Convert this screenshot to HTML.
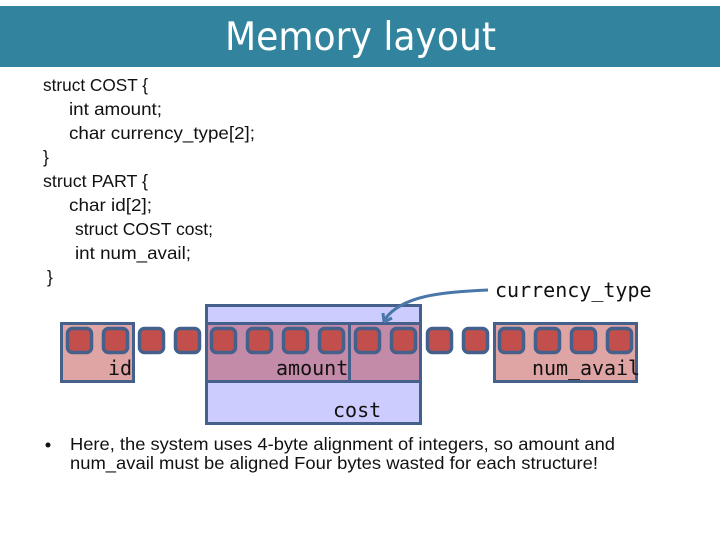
<!DOCTYPE html>
<html><head><meta charset="utf-8"><style>
html,body{margin:0;padding:0;background:#fff;width:720px;height:540px;overflow:hidden}
svg{display:block}
.b{font-family:"Liberation Sans",sans-serif;font-size:17.5px;fill:#111}
.m{font-family:"DejaVu Sans Mono",monospace;font-size:20px;fill:#111}
</style></head><body>
<svg width="720" height="540" viewBox="0 0 720 540" xmlns="http://www.w3.org/2000/svg">
<rect x="0" y="6" width="720" height="61" fill="#32849e"/>
<text x="225" y="50" font-family="'DejaVu Sans',sans-serif" font-size="39" fill="#fff" textLength="271" lengthAdjust="spacingAndGlyphs">Memory layout</text>

<text class="b" x="43" y="91" textLength="105" lengthAdjust="spacingAndGlyphs">struct COST {</text>
<text class="b" x="69" y="115" textLength="93" lengthAdjust="spacingAndGlyphs">int amount;</text>
<text class="b" x="69" y="139" textLength="186" lengthAdjust="spacingAndGlyphs">char currency_type[2];</text>
<text class="b" x="43" y="163">}</text>
<text class="b" x="43" y="187" textLength="105" lengthAdjust="spacingAndGlyphs">struct PART {</text>
<text class="b" x="69" y="211" textLength="83" lengthAdjust="spacingAndGlyphs">char id[2];</text>
<text class="b" x="75" y="235" textLength="138" lengthAdjust="spacingAndGlyphs">struct COST cost;</text>
<text class="b" x="75" y="259" textLength="116" lengthAdjust="spacingAndGlyphs">int num_avail;</text>
<text class="b" x="47" y="283">}</text>

<rect x="206.500" y="305.500" width="214" height="118" fill="#ccccff" stroke="#46608c" stroke-width="3"/>
<rect x="206.500" y="323.500" width="214" height="58" fill="#c48ba8" stroke="#46608c" stroke-width="3"/>
<line x1="349.500" y1="323" x2="349.500" y2="382" stroke="#46608c" stroke-width="3"/>
<rect x="61.500" y="323.500" width="72" height="58" fill="#dfa4a4" stroke="#46608c" stroke-width="3"/>
<rect x="494.500" y="323.500" width="142" height="58" fill="#dfa4a4" stroke="#46608c" stroke-width="3"/>

<g fill="#c24f4b" stroke="#46608c" stroke-width="3.500">
<rect x="67.500" y="328.500" width="24" height="24" rx="5"/>
<rect x="103.500" y="328.500" width="24" height="24" rx="5"/>
<rect x="139.500" y="328.500" width="24" height="24" rx="5"/>
<rect x="175.500" y="328.500" width="24" height="24" rx="5"/>
<rect x="211.500" y="328.500" width="24" height="24" rx="5"/>
<rect x="247.500" y="328.500" width="24" height="24" rx="5"/>
<rect x="283.500" y="328.500" width="24" height="24" rx="5"/>
<rect x="319.500" y="328.500" width="24" height="24" rx="5"/>
<rect x="355.500" y="328.500" width="24" height="24" rx="5"/>
<rect x="391.500" y="328.500" width="24" height="24" rx="5"/>
<rect x="427.500" y="328.500" width="24" height="24" rx="5"/>
<rect x="463.500" y="328.500" width="24" height="24" rx="5"/>
<rect x="499.500" y="328.500" width="24" height="24" rx="5"/>
<rect x="535.500" y="328.500" width="24" height="24" rx="5"/>
<rect x="571.500" y="328.500" width="24" height="24" rx="5"/>
<rect x="607.500" y="328.500" width="24" height="24" rx="5"/>
</g>

<path d="M488 290 C440 292 402 296 385 319" fill="none" stroke="#4a77a8" stroke-width="3"/>
<path d="M384 322 L383 313 M384 322 L392 318" fill="none" stroke="#4a77a8" stroke-width="3"/>

<text class="m" x="108" y="375">id</text>
<text class="m" x="276" y="375">amount</text>
<text class="m" x="333" y="417">cost</text>
<text class="m" x="495" y="297">currency_type</text>
<text class="m" x="532" y="375" textLength="108">num_avail</text>

<circle cx="48" cy="445" r="2.500" fill="#111"/>
<text class="b" x="70" y="450" textLength="545" lengthAdjust="spacingAndGlyphs">Here, the system uses 4-byte alignment of integers, so amount and</text>
<text class="b" x="70" y="469" textLength="528" lengthAdjust="spacingAndGlyphs">num_avail must be aligned Four bytes wasted for each structure!</text>
</svg>
</body></html>
